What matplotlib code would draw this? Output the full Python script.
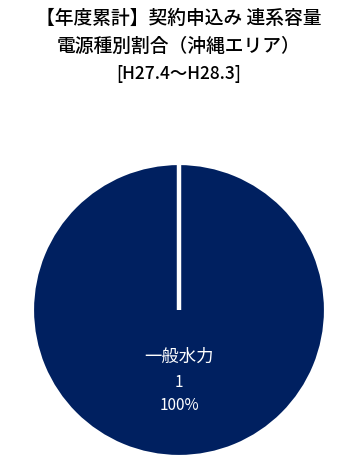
import numpy as np
import matplotlib.pyplot as plt

plt.rcParams['font.family'] = ['Noto Sans CJK JP', 'DejaVu Sans']

title_lines = ['【年度累計】契約申込み 連系容量', '電源種別割合（沖縄エリア）', '[H27.4～H28.3]']
title_sizes = [13.5, 13.5, 12.5]
labels = ['一般水力']
values = [1]
colors = ['#002060']

fig = plt.figure(figsize=(3.5, 4.62), dpi=100)

ax = fig.add_axes([(179 - 147) / 350, (152 - 147) / 462, 294 / 350, 294 / 462])
wedges, _ = ax.pie(values, colors=colors, startangle=90, counterclock=False,
                   wedgeprops=dict(edgecolor='white', linewidth=3))
ax.set_aspect('equal')
ax.set_xlim(-1, 1)
ax.set_ylim(-1, 1)

# slice border from centre to rim (a single 360° wedge draws no radial edge)
for w in wedges:
    t = np.deg2rad(w.theta1)
    ax.plot([w.center[0], w.center[0] + w.r * np.cos(t)],
            [w.center[1], w.center[1] + w.r * np.sin(t)],
            color='white', linewidth=3.2, solid_capstyle='butt')

total = sum(values)
for lab, v in zip(labels, values):
    ax.text(0, -0.32, lab, ha='center', va='center', color='white', fontsize=12.5)
    ax.text(0, -0.49, f'{v}', ha='center', va='center', color='white', fontsize=11)
    ax.text(0, -0.65, f'{v / total:.0%}', ha='center', va='center', color='white', fontsize=11)

for i, (line, fs) in enumerate(zip(title_lines, title_sizes)):
    fig.text(0.51, 1 - (18 + i * 28) / 462, line, ha='center', va='center',
             fontsize=fs, fontweight='medium', color='black')

fig.savefig('out.png', dpi=100)
